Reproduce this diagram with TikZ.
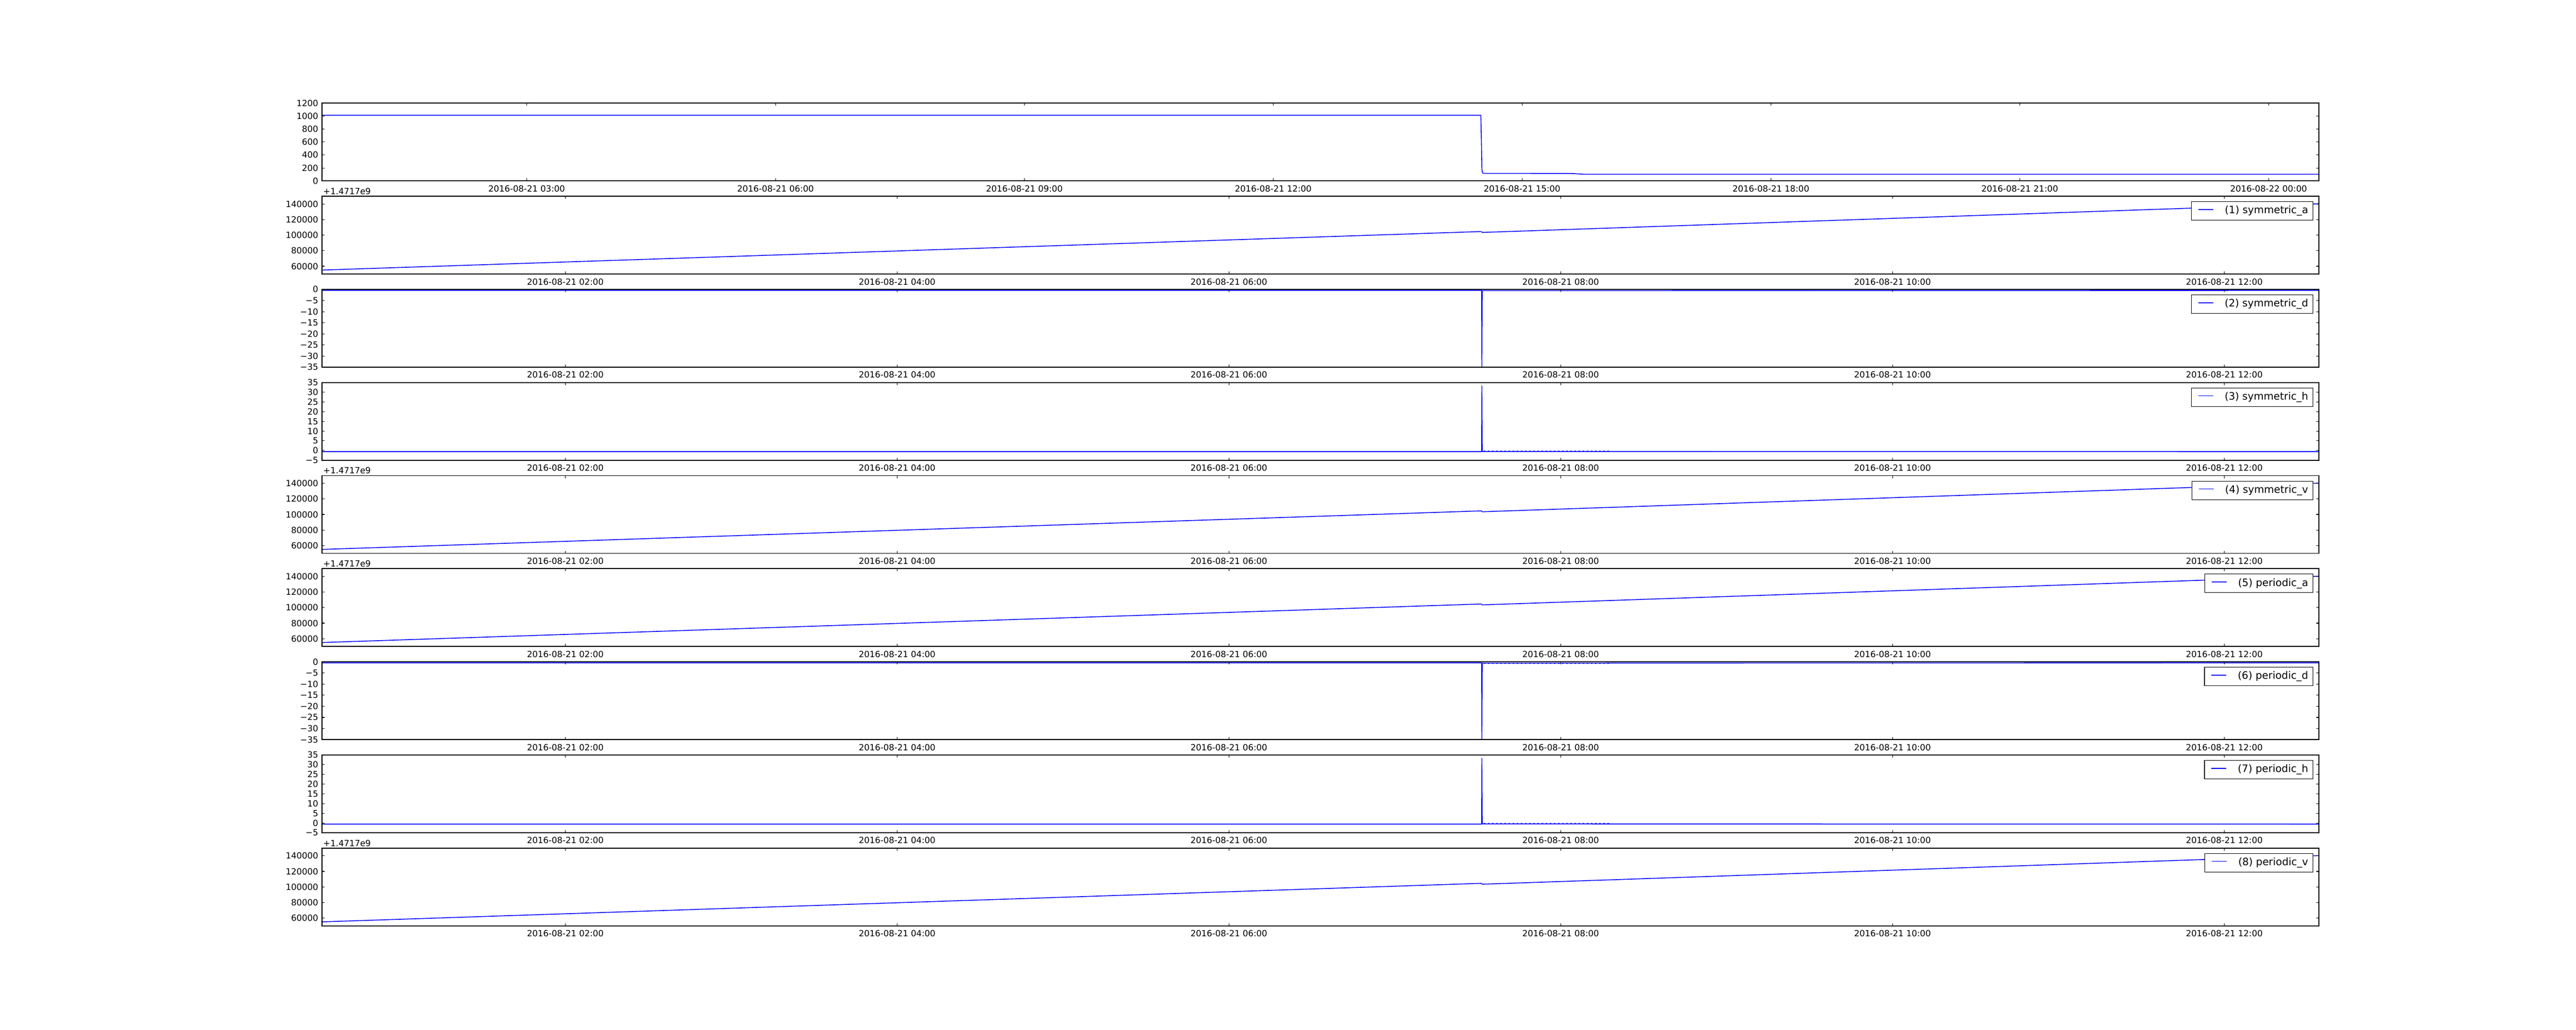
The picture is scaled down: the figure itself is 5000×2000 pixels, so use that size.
\documentclass[tikz,border=0pt]{standalone}
\usepackage{fontspec}
\setmainfont{DejaVu Sans}
\newcommand\tickfont{\fontsize{4.7pt}{5pt}\selectfont}
\newcommand\legfont{\fontsize{5.64pt}{6pt}\selectfont}
\tikzset{
  frame/.style={draw=black, line width=0.5pt},
  tickmark/.style={draw=black, line width=0.3pt},
  dataline/.style={draw=blue, line width=0.45pt, line join=round},
  noise/.style={draw=blue, line width=0.25pt, dash pattern=on 0.03cm off 0.05cm},
  ylab/.style={anchor=east, inner sep=0pt, font=\tickfont},
  xlab/.style={anchor=north, inner sep=0pt, font=\tickfont},
  offlab/.style={anchor=base west, inner sep=0pt, font=\tickfont},
  legbox/.style={draw=black, line width=0.3pt, fill=white, inner sep=0pt,
    minimum height=0.36cm, anchor=north east, font=\legfont},
}
% y ticks: #1 name, #2 ymin, #3 ymax, #4 value/label list
\newcommand\yaxis[4]{%
  \foreach \v/\t [count=\i] in {#4}{
    \pgfmathsetmacro\yy{151*((#3-(\v))/(#3-(#2)))}
    \draw[tickmark] (625.3,\yy) -- ++(5,0);
    \draw[tickmark] (4500.7,\yy) -- ++(-5,0);
    \node[ylab] (#1y\i) at (618.3,\yy) {\t};
  }}
% x ticks: #1 name, #2 first tick, #3 step, #4 labels
\newcommand\xaxis[4]{%
  \foreach \t [count=\i] in {#4}{
    \pgfmathsetmacro\xx{#2+#3*(\i-1)}
    \draw[tickmark] (\xx,0) -- ++(0,5);
    \draw[tickmark] (\xx,151) -- ++(0,-5);
    \node[xlab] (#1x\i) at (\xx,159) {2016-08-\t};
  }}
\newcommand\halfday[1]{\xaxis{#1}{1097.3}{644}{21 02:00,21 04:00,21 06:00,21 08:00,21 10:00,21 12:00}}
\newcommand\legend[2]{%
  \node[legbox] (#1) at (4490.3,10) {\hspace*{0.647cm}#2\hspace*{0.096cm}};
  \draw[dataline] ([xshift=0.14cm,yshift=0.026cm]#1.west) -- ++(29,0);}
% panels of the a and v kind
\newcommand\apanel[2]{%
  \draw[dataline] (625.3,143.3) -- (2875,68.5) -- (2877,70.2) -- (4500.7,14.6);
  \node[offlab] (#1off) at (626.7,-3.7) {+1.4717e9};
  \yaxis{#1}{50}{150}{60/60000,80/80000,100/100000,120/120000,140/140000}
  \halfday{#1}
  \legend{#1leg}{#2}
  \draw[frame] (625.3,0) rectangle (4500.7,151);}
% panels of the d kind
\newcommand\dpanel[2]{%
  \draw[dataline] (625.3,2) -- (2875.8,2) -- (2876.3,150) -- (2877,2.5) -- (4500.7,2);
  \draw[dataline, line width=0.6pt] (2877.3,3) -- (2877.3,12);
  \draw[noise] (2880,3) -- (3123,3);
  \yaxis{#1}{-35}{0}{0/0,-5/−5,-10/−10,-15/−15,-20/−20,-25/−25,-30/−30,-35/−35}
  \halfday{#1}
  \legend{#1leg}{#2}
  \draw[frame] (625.3,0) rectangle (4500.7,151);}
% panels of the h kind
\newcommand\hpanel[2]{%
  \draw[dataline] (625.3,134.3) -- (2875.8,134.3) -- (2876.3,6.5) -- (2877,134) -- (4500.7,134.3);
  \draw[dataline, line width=0.6pt] (2877.3,124) -- (2877.3,133);
  \draw[noise] (2880,133) -- (3123,133);
  \yaxis{#1}{-5}{35}{-5/−5,0/0,5/5,10/10,15/15,20/20,25/25,30/30,35/35}
  \halfday{#1}
  \legend{#1leg}{#2}
  \draw[frame] (625.3,0) rectangle (4500.7,151);}
\begin{document}
\begin{tikzpicture}[x=0.01cm, y=-0.01cm]
  \path[use as bounding box, fill=white] (0,0) rectangle (5000,2000);
  % panel 1
  \begin{scope}[shift={(0,200.3)}]
    \draw[dataline] (625.3,23.5) -- (2874.3,23.5) -- (2875.3,71) -- (2876.3,128)
      -- (2877.5,135.5) -- (2880,136.3) -- (3050,136.5) -- (3073,138) -- (4500.7,138);
    \yaxis{pa}{0}{1200}{0/0,200/200,400/400,600/600,800/800,1000/1000,1200/1200}
    \xaxis{pa}{1022.3}{483}{21 03:00,21 06:00,21 09:00,21 12:00,21 15:00,21 18:00,21 21:00,22 00:00}
    \draw[frame] (625.3,0) rectangle (4500.7,151);
  \end{scope}
  \begin{scope}[shift={(0,381.1)}]
    \apanel{sa}{(1) symmetric\_a}
  \end{scope}
  \begin{scope}[shift={(0,561.9)}]
    \dpanel{sd}{(2) symmetric\_d}
  \end{scope}
  \begin{scope}[shift={(0,742.7)}]
    \hpanel{sh}{(3) symmetric\_h}
  \end{scope}
  \begin{scope}[shift={(0,923.5)}]
    \apanel{sv}{(4) symmetric\_v}
  \end{scope}
  \begin{scope}[shift={(0,1104.3)}]
    \apanel{pa}{(5) periodic\_a}
  \end{scope}
  \begin{scope}[shift={(0,1285.1)}]
    \dpanel{pd}{(6) periodic\_d}
  \end{scope}
  \begin{scope}[shift={(0,1465.9)}]
    \hpanel{ph}{(7) periodic\_h}
  \end{scope}
  \begin{scope}[shift={(0,1646.7)}]
    \apanel{pv}{(8) periodic\_v}
  \end{scope}
\end{tikzpicture}
\end{document}
